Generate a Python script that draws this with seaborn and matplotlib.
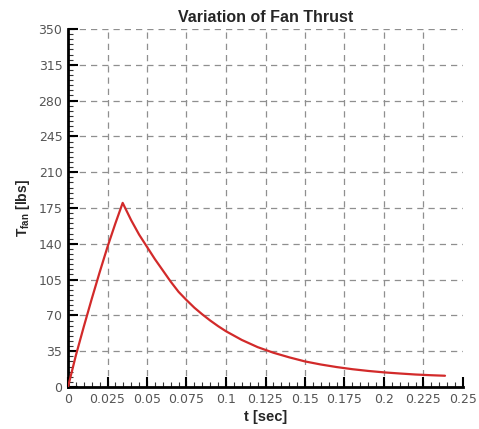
import matplotlib
matplotlib.use("Agg")
import matplotlib.pyplot as plt
from matplotlib.ticker import FixedLocator, FixedFormatter, MultipleLocator
import seaborn as sns
import pandas as pd

# Fan thrust history: time [sec] and thrust [lbs]
time_sec = [0.0, 0.005, 0.01, 0.015, 0.02, 0.025, 0.03, 0.0346,
            0.04, 0.045, 0.05, 0.055, 0.06, 0.065, 0.07, 0.075, 0.08,
            0.085, 0.09, 0.095, 0.1, 0.11, 0.12, 0.13, 0.14, 0.15, 0.16,
            0.17, 0.18, 0.19, 0.2, 0.21, 0.22, 0.23, 0.2386]
thrust_lbs = [0.0, 31.0, 59.0, 86.0, 112.0, 137.0, 160.0, 180.0,
              163.0, 149.0, 137.0, 125.0, 114.0, 103.0, 93.0, 85.0, 77.5,
              71.0, 65.0, 59.5, 54.5, 46.0, 39.0, 33.5, 29.0, 25.0, 22.0,
              19.5, 17.4, 15.7, 14.3, 13.2, 12.2, 11.5, 11.0]

x_ticks = [0.0, 0.025, 0.05, 0.075, 0.1, 0.125, 0.15, 0.175, 0.2, 0.225, 0.25]
x_tick_labels = ["0", "0.025", "0.05", "0.075", "0.1", "0.125", "0.15",
                 "0.175", "0.2", "0.225", "0.25"]
y_ticks = [0, 35, 70, 105, 140, 175, 210, 245, 280, 315, 350]
y_tick_labels = [str(v) for v in y_ticks]

df = pd.DataFrame({"t": time_sec, "T": thrust_lbs})

sns.set_style("white")
plt.rcParams["font.family"] = ["Liberation Sans", "DejaVu Sans"]
plt.rcParams["mathtext.fontset"] = "custom"
plt.rcParams["mathtext.rm"] = "Liberation Sans:bold"
plt.rcParams["mathtext.bf"] = "Liberation Sans:bold"

fig = plt.figure(figsize=(4.79, 4.29), dpi=100)
ax = fig.add_axes([68 / 479, 42 / 429, 395 / 479, 358 / 429])

sns.lineplot(data=df, x="t", y="T", ax=ax, color="#d22a2a", linewidth=1.6,
             sort=False, estimator=None, zorder=3)

ax.set_xlim(0, 0.25)
ax.set_ylim(0, 350)

ax.xaxis.set_major_locator(FixedLocator(x_ticks))
ax.xaxis.set_major_formatter(FixedFormatter(x_tick_labels))
ax.yaxis.set_major_locator(FixedLocator(y_ticks))
ax.yaxis.set_major_formatter(FixedFormatter(y_tick_labels))
ax.xaxis.set_minor_locator(MultipleLocator(0.005))
ax.yaxis.set_minor_locator(MultipleLocator(5))

ax.grid(True, which="major", color="#8f8f8f", linestyle=(0, (5, 4)),
        linewidth=0.9)
ax.set_axisbelow(True)
ax.get_xgridlines()[-1].set_visible(False)

for side in ("top", "right"):
    ax.spines[side].set_visible(False)
for side in ("left", "bottom"):
    ax.spines[side].set_visible(True)
    ax.spines[side].set_color("black")
    ax.spines[side].set_linewidth(2)

ax.tick_params(axis="x", which="both", bottom=True, top=False)
ax.tick_params(axis="y", which="both", left=True, right=False)
ax.tick_params(which="major", direction="in", length=7, width=1.5,
               color="black", labelsize=9, labelcolor="#555555", pad=4)
ax.tick_params(which="minor", direction="in", length=3.5, width=0.8,
               color="#333333")
for lbl in ax.get_xticklabels() + ax.get_yticklabels():
    lbl.set_family(["DejaVu Sans"])

ax.set_title("Variation of Fan Thrust", fontsize=11.5, fontweight="bold",
             pad=5)
ax.set_xlabel("t [sec]", fontsize=10.5, fontweight="bold", labelpad=3)
ax.set_ylabel(r"T$_{\rm fan}$ [lbs]", fontsize=10, fontweight="bold",
              labelpad=5)

fig.savefig("out.png", dpi=100)
